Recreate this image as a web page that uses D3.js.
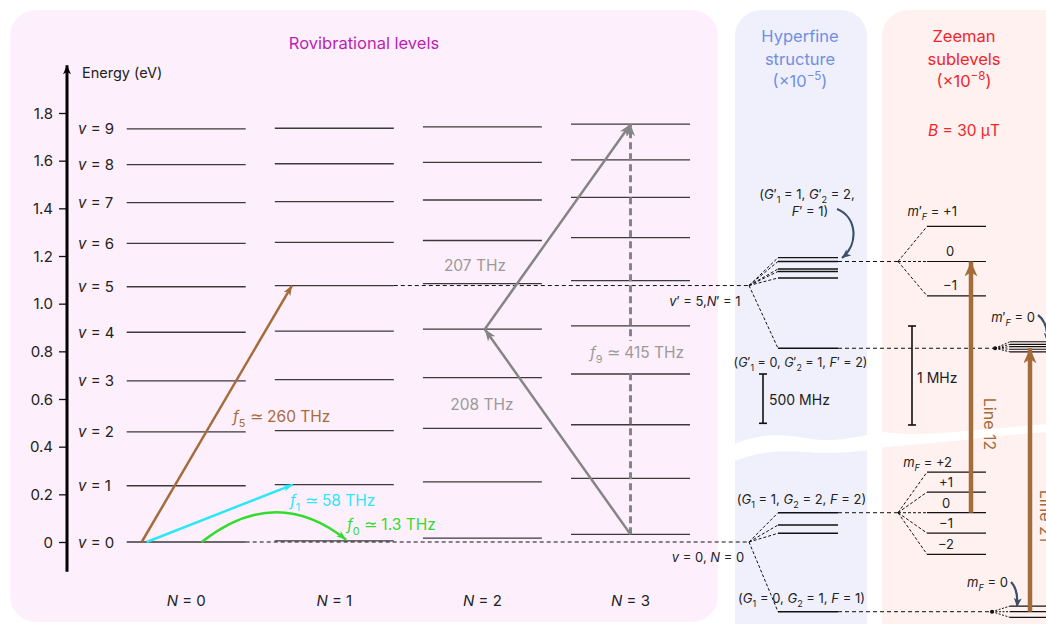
<!DOCTYPE html>
<html><head><meta charset="utf-8">
<script src="https://cdn.jsdelivr.net/npm/d3@7"></script>
<style>
html,body{margin:0;padding:0;background:#fff;}
svg{display:block;font-family:Inter,"Open Sans",Roboto,sans-serif;}
</style></head><body>
<svg id="chart" width="1046" height="624"></svg>
<script>
// ---- data ----
// rotational quantum numbers (one column each)
const rotN = [0, 1, 2, 3];
// level energies (eV) for v = 0..9 in each rotational column
const levelsN0 = [0.000, 0.236, 0.462, 0.676, 0.880, 1.071, 1.253, 1.424, 1.583, 1.733];
const levelsN1 = [0.005, 0.241, 0.467, 0.681, 0.885, 1.076, 1.257, 1.428, 1.587, 1.736];
const levelsN2 = [0.016, 0.252, 0.477, 0.690, 0.893, 1.084, 1.265, 1.435, 1.593, 1.742];
const levelsN3 = [0.032, 0.267, 0.492, 0.705, 0.907, 1.097, 1.277, 1.446, 1.603, 1.753];
const energyTicks = [0, 0.2, 0.4, 0.6, 0.8, 1.0, 1.2, 1.4, 1.6, 1.8];

// transitions: [N, v] -> [N, v]
const transNames  = ["f5", "f1", "f0", "208", "207", "f9"];
const transFrom   = [[0, 0], [0, 0], [0, 0], [3, 0], [2, 4], [3, 0]];
const transTo     = [[1, 5], [1, 1], [1, 0], [2, 4], [3, 9], [3, 9]];
const transFreqTHz = [260, 58, 1.3, 208, 207, 415];

// hyperfine sublevel offsets (MHz) from each rovibrational level
const hfUpperMHz = [283, 244, 168, 143, 77, -636];  // v'=5, N'=1
const hfLowerMHz = [297, 172, 88, -707];            // v=0, N=0
// Zeeman shifts (MHz) at B = 30 μT
const zUpperF1MHz = [0.354, 0, -0.347];
const zUpperF1Lab = ["+1", "0", "\u22121"];
const zLowerF2MHz = [0.41, 0.208, 0, -0.206, -0.42];
const zLowerF2Lab = ["+2", "+1", "0", "\u22121", "\u22122"];
const zUpperF2MHz = [0.066, 0.040, 0.016, -0.010, -0.037];
const zLowerF1MHz = [0.057, 0, -0.057];

// ---- drawing ----
const svg = d3.select("#chart");
const levels = [levelsN0, levelsN1, levelsN2, levelsN3];

const y = d3.scaleLinear().domain([0, 1.8]).range([542, 113]);
const colX = d3.scalePoint().domain(rotN).range([186.2, 630.5]);
const halfW = 59.5;
const hfY = d3.scaleLinear().domain([0, 500]).range([0, -49.3]);
const zY = d3.scaleLinear().domain([0, 1]).range([0, -99]);

const C = {
  brown: "#a56c3b", cyan: "#2de6f6", green: "#32dc2e", gray: "#858585",
  grayText: "#9a9a9a", slate: "#3b5068", ink: "#222"
};

// arrowhead markers
const defs = svg.append("defs");
function marker(id, color, len, wid) {
  defs.append("marker").attr("id", id).attr("markerUnits", "userSpaceOnUse")
    .attr("markerWidth", len).attr("markerHeight", wid)
    .attr("refX", len).attr("refY", wid / 2).attr("orient", "auto")
    .append("path").attr("d", `M0,0 L${len},${wid / 2} L0,${wid} L${len * 0.28},${wid / 2} Z`)
    .attr("fill", color);
}
marker("mAxis", "#000", 9, 8);
marker("mBrown", C.brown, 10, 8);
marker("mCyan", C.cyan, 10, 7);
marker("mGreen", C.green, 10, 7);
marker("mGray", C.gray, 12, 9);
marker("mBig", C.brown, 15, 13);
marker("mSlate", C.slate, 9, 8);

// panels
svg.append("rect").attr("x", 10).attr("y", 10).attr("width", 708).attr("height", 612)
  .attr("rx", 26).attr("fill", "#fdf0fc");
svg.append("rect").attr("x", 735).attr("y", 10).attr("width", 132).attr("height", 660)
  .attr("rx", 26).attr("fill", "#eff0fc");
svg.append("rect").attr("x", 882).attr("y", 10).attr("width", 220).attr("height", 660)
  .attr("rx", 26).attr("fill", "#fef1f0");
// axis breaks
svg.append("path").attr("fill", "#fff")
  .attr("d", "M730,446 C755,434 780,433 805,438 C830,443 850,438 872,434 L872,450 C850,452 830,454 805,452 C780,450 755,452 730,463 Z");
svg.append("path").attr("fill", "#fff")
  .attr("d", "M878,431 C905,436 935,434 965,431 C995,429 1020,426 1050,424 L1050,432 C1020,434 995,436 965,440 C935,443 905,445 878,448 Z");

// rich text helper
function rich(x, yy, parts, o) {
  const t = svg.append("text").attr("x", x).attr("y", yy).attr("font-size", o.size)
    .attr("fill", o.color || C.ink).attr("text-anchor", o.anchor || "start");
  if (o.rotate) t.attr("transform", `rotate(${o.rotate},${x},${yy})`);
  let shift = 0;
  parts.forEach(p => {
    if (typeof p === "string") p = { t: p };
    const s = t.append("tspan").text(p.t);
    const target = p.sub ? o.size * 0.3 : p.sup ? -o.size * 0.4 : 0;
    if (target !== shift) { s.attr("dy", target - shift); shift = target; }
    if (p.sub || p.sup) s.attr("font-size", o.size * 0.7);
    if (p.i) s.attr("font-style", "italic");
  });
  return t;
}

// titles
rich(364, 49, ["Rovibrational levels"], { size: 16.5, color: "#bb1fb2", anchor: "middle" });
rich(800, 42, ["Hyperfine"], { size: 16.5, color: "#6f8fe2", anchor: "middle" });
rich(800, 65, ["structure"], { size: 16.5, color: "#6f8fe2", anchor: "middle" });
rich(800, 87, ["(\u00d710", { t: "\u22125", sup: true }, ")"], { size: 16.5, color: "#6f8fe2", anchor: "middle" });
rich(964, 42, ["Zeeman"], { size: 16.5, color: "#f0262a", anchor: "middle" });
rich(964, 65, ["sublevels"], { size: 16.5, color: "#f0262a", anchor: "middle" });
rich(964, 87, ["(\u00d710", { t: "\u22128", sup: true }, ")"], { size: 16.5, color: "#f0262a", anchor: "middle" });
rich(964, 136, [{ t: "B", i: true }, " = 30 \u03bcT"], { size: 15.5, color: "#f0262a", anchor: "middle" });

// energy axis
const axis = d3.axisLeft(y).tickValues(energyTicks).tickSize(8).tickPadding(6)
  .tickFormat(d => d === 0 ? "0" : d3.format(".1f")(d));
const ax = svg.append("g").attr("transform", "translate(67,0)").call(axis)
  .attr("font-family", null).attr("font-size", null);
ax.select(".domain").remove();
ax.selectAll(".tick line").attr("stroke", "#111").attr("stroke-width", 1.3);
ax.selectAll(".tick text").attr("font-size", 15).attr("fill", C.ink).attr("dy", "0.35em");
svg.append("line").attr("x1", 67).attr("x2", 67).attr("y1", y(-0.125)).attr("y2", y(2.0))
  .attr("stroke", "#000").attr("stroke-width", 3).attr("marker-end", "url(#mAxis)");
rich(82, 78, ["Energy (eV)"], { size: 14.5 });

// vibrational labels
levelsN0.forEach((e, v) => rich(78, y(e) + 5.5, [{ t: "v", i: true }, " = " + v], { size: 15 }));
// rotational labels
rotN.forEach(n => rich(colX(n), 606, [{ t: "N", i: true }, " = " + n], { size: 15, anchor: "middle" }));

// level lines
rotN.forEach(n => {
  svg.append("g").selectAll("line").data(levels[n]).join("line")
    .attr("x1", colX(n) - halfW).attr("x2", colX(n) + halfW)
    .attr("y1", d => y(d)).attr("y2", d => y(d))
    .attr("stroke", "#3a3a3a").attr("stroke-width", 1.3);
});

const dash = (x1, y1, x2, y2, da = "4,3", w = 1) => svg.append("line")
  .attr("x1", x1).attr("y1", y1).attr("x2", x2).attr("y2", y2)
  .attr("stroke", "#111").attr("stroke-width", w).attr("stroke-dasharray", da);

// hyperfine layout
const hfSplitX = 749, hfX1 = 778, hfX2 = 838;
const yUp = y(levelsN1[5]), yLo = y(levelsN0[0]);
dash(colX(1) + halfW, yUp, hfSplitX, yUp);
dash(colX(0) + halfW, yLo, hfSplitX, yLo);

// transitions
const pt = (nv, frac) => [colX(nv[0]) - halfW + frac * 2 * halfW, y(levels[nv[0]][nv[1]])];
const tA = i => transFrom[i], tB = i => transTo[i];
function arrowLine(i, f1, f2, color, mk, w, da) {
  const a = pt(tA(i), f1), b = pt(tB(i), f2);
  const l = svg.append("line").attr("x1", a[0]).attr("y1", a[1]).attr("x2", b[0]).attr("y2", b[1])
    .attr("stroke", color).attr("stroke-width", w).attr("marker-end", `url(#${mk})`);
  if (da) l.attr("stroke-dasharray", da);
  return [a, b];
}
// f9 dashed vertical with label gap
arrowLine(5, 0.5, 0.5, C.gray, "mGray", 3, "7,4");
const f9Lab = rich(637, 358, [{ t: "f", i: true }, { t: "9", sub: true }, " \u2243 " + transFreqTHz[5] + " THz"],
  { size: 15.5, color: C.grayText, anchor: "middle" });
const bb = f9Lab.node().getBBox();
svg.insert("rect", () => f9Lab.node()).attr("x", colX(3) - 6).attr("y", bb.y - 2)
  .attr("width", 12).attr("height", bb.height + 6).attr("fill", "#fdf0fc");
// 208 and 207 THz
arrowLine(3, 0.5, 0.52, C.gray, "mGray", 2.5);
arrowLine(4, 0.52, 0.5, C.gray, "mGray", 2.5);
rich(482, 410, [transFreqTHz[3] + " THz"], { size: 15.5, color: C.grayText, anchor: "middle" });
rich(475, 271, [transFreqTHz[4] + " THz"], { size: 15.5, color: C.grayText, anchor: "middle" });
// f5, f1
arrowLine(0, 0.126, 0.144, C.brown, "mBrown", 2.5);
arrowLine(1, 0.168, 0.153, C.cyan, "mCyan", 2.5);
rich(233, 422, [{ t: "f", i: true }, { t: "5", sub: true }, " \u2243 " + transFreqTHz[0] + " THz"], { size: 15.5, color: C.brown });
rich(290, 506, [{ t: "f", i: true }, { t: "1", sub: true }, " \u2243 " + transFreqTHz[1] + " THz"], { size: 15.5, color: C.cyan });
// f0 curved
{
  const a = pt(tA(2), 0.63), b = pt(tB(2), 0.6);
  svg.append("path").attr("d", `M${a[0]},${a[1]} Q${(a[0] + b[0]) / 2 + 2},${y(0.245)} ${b[0]},${b[1] - 1}`)
    .attr("fill", "none").attr("stroke", C.green).attr("stroke-width", 2.5).attr("marker-end", "url(#mGreen)");
  rich(347, 530, [{ t: "f", i: true }, { t: "0", sub: true }, " \u2243 " + transFreqTHz[2] + " THz"], { size: 15.5, color: C.green });
}

// hyperfine levels
function hfBlock(centerY, offs) {
  offs.forEach(o => {
    const yy = centerY + hfY(o);
    dash(hfSplitX, centerY, hfX1, yy, "3,2");
    svg.append("line").attr("x1", hfX1).attr("x2", hfX2).attr("y1", yy).attr("y2", yy)
      .attr("stroke", "#111").attr("stroke-width", 1.4);
  });
}
hfBlock(yUp, hfUpperMHz);
hfBlock(yLo, hfLowerMHz);

const txt = 13;
rich(705, 306, [{ t: "v", i: true }, "\u2032 = 5,", { t: "N", i: true }, "\u2032 = 1"], { size: txt, anchor: "middle" });
rich(708, 562, [{ t: "v", i: true }, " = 0, ", { t: "N", i: true }, " = 0"], { size: txt, anchor: "middle" });
rich(807, 199, ["(", { t: "G", i: true }, "\u2032", { t: "1", sub: true }, " = 1, ", { t: "G", i: true }, "\u2032", { t: "2", sub: true }, " = 2,"], { size: txt, anchor: "middle" });
rich(810, 216, [{ t: "F", i: true }, "\u2032 = 1)"], { size: txt, anchor: "middle" });
rich(800.5, 367, ["(", { t: "G", i: true }, "\u2032", { t: "1", sub: true }, " = 0, ", { t: "G", i: true }, "\u2032", { t: "2", sub: true }, " = 1, ", { t: "F", i: true }, "\u2032 = 2)"], { size: 12.6, anchor: "middle" });
rich(801.5, 504, ["(", { t: "G", i: true }, { t: "1", sub: true }, " = 1, ", { t: "G", i: true }, { t: "2", sub: true }, " = 2, ", { t: "F", i: true }, " = 2)"], { size: txt, anchor: "middle" });
rich(801.5, 603, ["(", { t: "G", i: true }, { t: "1", sub: true }, " = 0, ", { t: "G", i: true }, { t: "2", sub: true }, " = 1, ", { t: "F", i: true }, " = 1)"], { size: txt, anchor: "middle" });

// scale bars
function scaleBar(x, top, len) {
  const g = svg.append("g").attr("stroke", "#111").attr("stroke-width", 1.6);
  g.append("line").attr("x1", x).attr("x2", x).attr("y1", top).attr("y2", top + len);
  g.append("line").attr("x1", x - 4).attr("x2", x + 4).attr("y1", top).attr("y2", top);
  g.append("line").attr("x1", x - 4).attr("x2", x + 4).attr("y1", top + len).attr("y2", top + len);
}
scaleBar(763, 374, -hfY(500));
rich(769, 405, ["500 MHz"], { size: 14 });
scaleBar(912, 326, -zY(1));
rich(917, 383, ["1 MHz"], { size: 14 });

// Zeeman sublevels
const zSplitX = 898, zX1 = 927, zX2 = 986;
const yF1u = yUp + hfY(hfUpperMHz[1]);
const yF2l = yLo + hfY(hfLowerMHz[0]);
const yF2u = yUp + hfY(hfUpperMHz[5]);
const yF1l = yLo + hfY(hfLowerMHz[3]);
function zBlock(cy, shifts) {
  dash(hfX2, cy, zSplitX, cy);
  return shifts.map(s => {
    const yy = cy + zY(s);
    dash(zSplitX, cy, zX1, yy, "3,2");
    svg.append("line").attr("x1", zX1).attr("x2", zX2).attr("y1", yy).attr("y2", yy)
      .attr("stroke", "#111").attr("stroke-width", 1.2);
    return yy;
  });
}
const upYs = zBlock(yF1u, zUpperF1MHz);
const loYs = zBlock(yF2l, zLowerF2MHz);
upYs.forEach((yy, i) => {
  if (i === 0) rich(957, yy - 10, [{ t: "m", i: true }, "\u2032", { t: "F", i: true, sub: true }, " = " + zUpperF1Lab[i]], { size: txt, anchor: "end" });
  else rich(950, yy - 5.5, [zUpperF1Lab[i]], { size: txt, anchor: "middle" });
});
loYs.forEach((yy, i) => {
  if (i === 0) rich(952, yy - 5, [{ t: "m", i: true }, { t: "F", i: true, sub: true }, " = " + zLowerF2Lab[i]], { size: txt, anchor: "end" });
  else rich(946, yy - 5, [zLowerF2Lab[i]], { size: txt, anchor: "middle" });
});

// compressed clusters at the right edge
function edgeCluster(cy, shifts, dotX) {
  dash(hfX2, cy, dotX, cy);
  svg.append("circle").attr("cx", dotX + 2).attr("cy", cy).attr("r", 2).attr("fill", "#111");
  return shifts.map(s => {
    const yy = cy + zY(s);
    dash(dotX + 2, cy, 1010, yy, "2,1.5");
    svg.append("line").attr("x1", 1010).attr("x2", 1050).attr("y1", yy).attr("y2", yy)
      .attr("stroke", "#111").attr("stroke-width", 1.2);
    return yy;
  });
}
edgeCluster(yF2u, zUpperF2MHz, 993);
edgeCluster(yF1l, zLowerF1MHz, 990);
rich(1035, 322, [{ t: "m", i: true }, "\u2032", { t: "F", i: true, sub: true }, " = 0"], { size: txt, anchor: "end" });
rich(1008, 587, [{ t: "m", i: true }, { t: "F", i: true, sub: true }, " = 0"], { size: txt, anchor: "end" });

// Line 12 and Line 21
svg.append("line").attr("x1", 971).attr("x2", 971).attr("y1", loYs[2]).attr("y2", upYs[1])
  .attr("stroke", C.brown).attr("stroke-width", 4.5).attr("marker-end", "url(#mBig)");
svg.append("line").attr("x1", 1030).attr("x2", 1030).attr("y1", yF1l).attr("y2", yF2u)
  .attr("stroke", C.brown).attr("stroke-width", 4.5).attr("marker-end", "url(#mBig)");
rich(983.5, 424, ["Line 12"], { size: 16, color: C.brown, anchor: "middle", rotate: 90 });
rich(1040, 516, ["Line 21"], { size: 16, color: C.brown, anchor: "middle", rotate: 90 });

// pointer arrows
const curve = d => svg.append("path").attr("d", d).attr("fill", "none").attr("stroke", C.slate)
  .attr("stroke-width", 2.2).attr("marker-end", "url(#mSlate)");
curve("M837,209 C857,217 859,244 842,258");
curve("M1038,315 C1046,321 1048,331 1047,342");
curve("M1011,582 C1017,588 1018,596 1017,607");
</script>
</body></html>
